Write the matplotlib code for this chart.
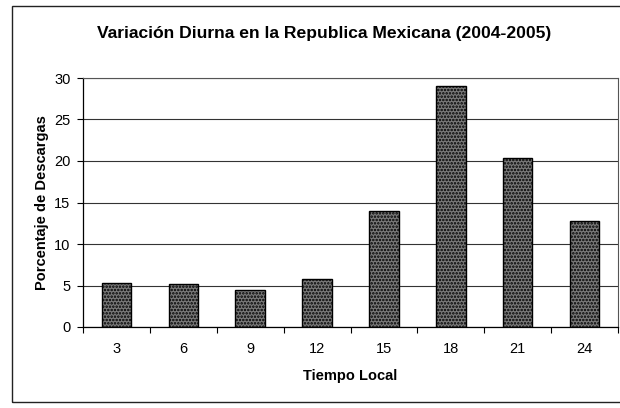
import matplotlib
matplotlib.use("Agg")
import matplotlib.pyplot as plt
from matplotlib.patches import Rectangle

plt.rcParams['font.family'] = ['Liberation Sans', 'DejaVu Sans']
plt.rcParams['hatch.color'] = '#2a2a2a'
plt.rcParams['hatch.linewidth'] = 1.2

horas = ["3", "6", "9", "12", "15", "18", "21", "24"]
porcentaje = [5.3, 5.2, 4.5, 5.8, 14.0, 29.0, 20.4, 12.8]
yticks = [0, 5, 10, 15, 20, 25, 30]

fig = plt.figure(figsize=(6.2, 4.08), dpi=100)
fig.patch.set_facecolor('white')

# outer chart frame
frame = Rectangle((12 / 620, 6 / 408), 1.2, (402 - 6) / 408, transform=fig.transFigure,
                  fill=False, edgecolor='#222222', linewidth=1.0)
fig.add_artist(frame)

ax = fig.add_axes([83 / 620, (408 - 327) / 408, (618 - 83) / 620, (327 - 78) / 408])

x = list(range(len(horas)))
ax.bar(x, porcentaje, width=0.44, color='#7a7a7a', edgecolor='black',
       linewidth=1.0, hatch='.....', zorder=3)

ax.set_xlim(-0.5, len(horas) - 0.5)
ax.set_ylim(0, 30)
ax.set_yticks(yticks)
ax.yaxis.grid(True, color='#333333', linewidth=0.8, zorder=0)
ax.set_axisbelow(True)

# category labels centred under each bar, tick marks between categories
ax.set_xticks([i - 0.5 for i in range(len(horas) + 1)])
ax.set_xticklabels([])
ax.set_xticks(x, minor=True)
ax.set_xticklabels(horas, minor=True, fontsize=10.5)
ax.tick_params(axis='x', which='minor', length=0, pad=11)
ax.tick_params(axis='x', which='major', length=4, width=0.8, direction='out')
ax.tick_params(axis='y', length=4, width=0.8, labelsize=10.5, pad=5)

for s in ['left', 'bottom']:
    ax.spines[s].set_color('black')
    ax.spines[s].set_linewidth(0.9)
for s in ['top', 'right']:
    ax.spines[s].set_color('#555555')
    ax.spines[s].set_linewidth(0.8)

ax.set_xlabel('Tiempo Local', fontsize=10.5, fontweight='bold', labelpad=9)
ax.set_ylabel('Porcentaje de Descargas', fontsize=10.5, fontweight='bold', labelpad=4)

fig.text(0.522, 0.919, 'Variación Diurna en la Republica Mexicana (2004-2005)',
         ha='center', va='center', fontsize=12.6, fontweight='bold')

fig.savefig('out.png', dpi=100)
